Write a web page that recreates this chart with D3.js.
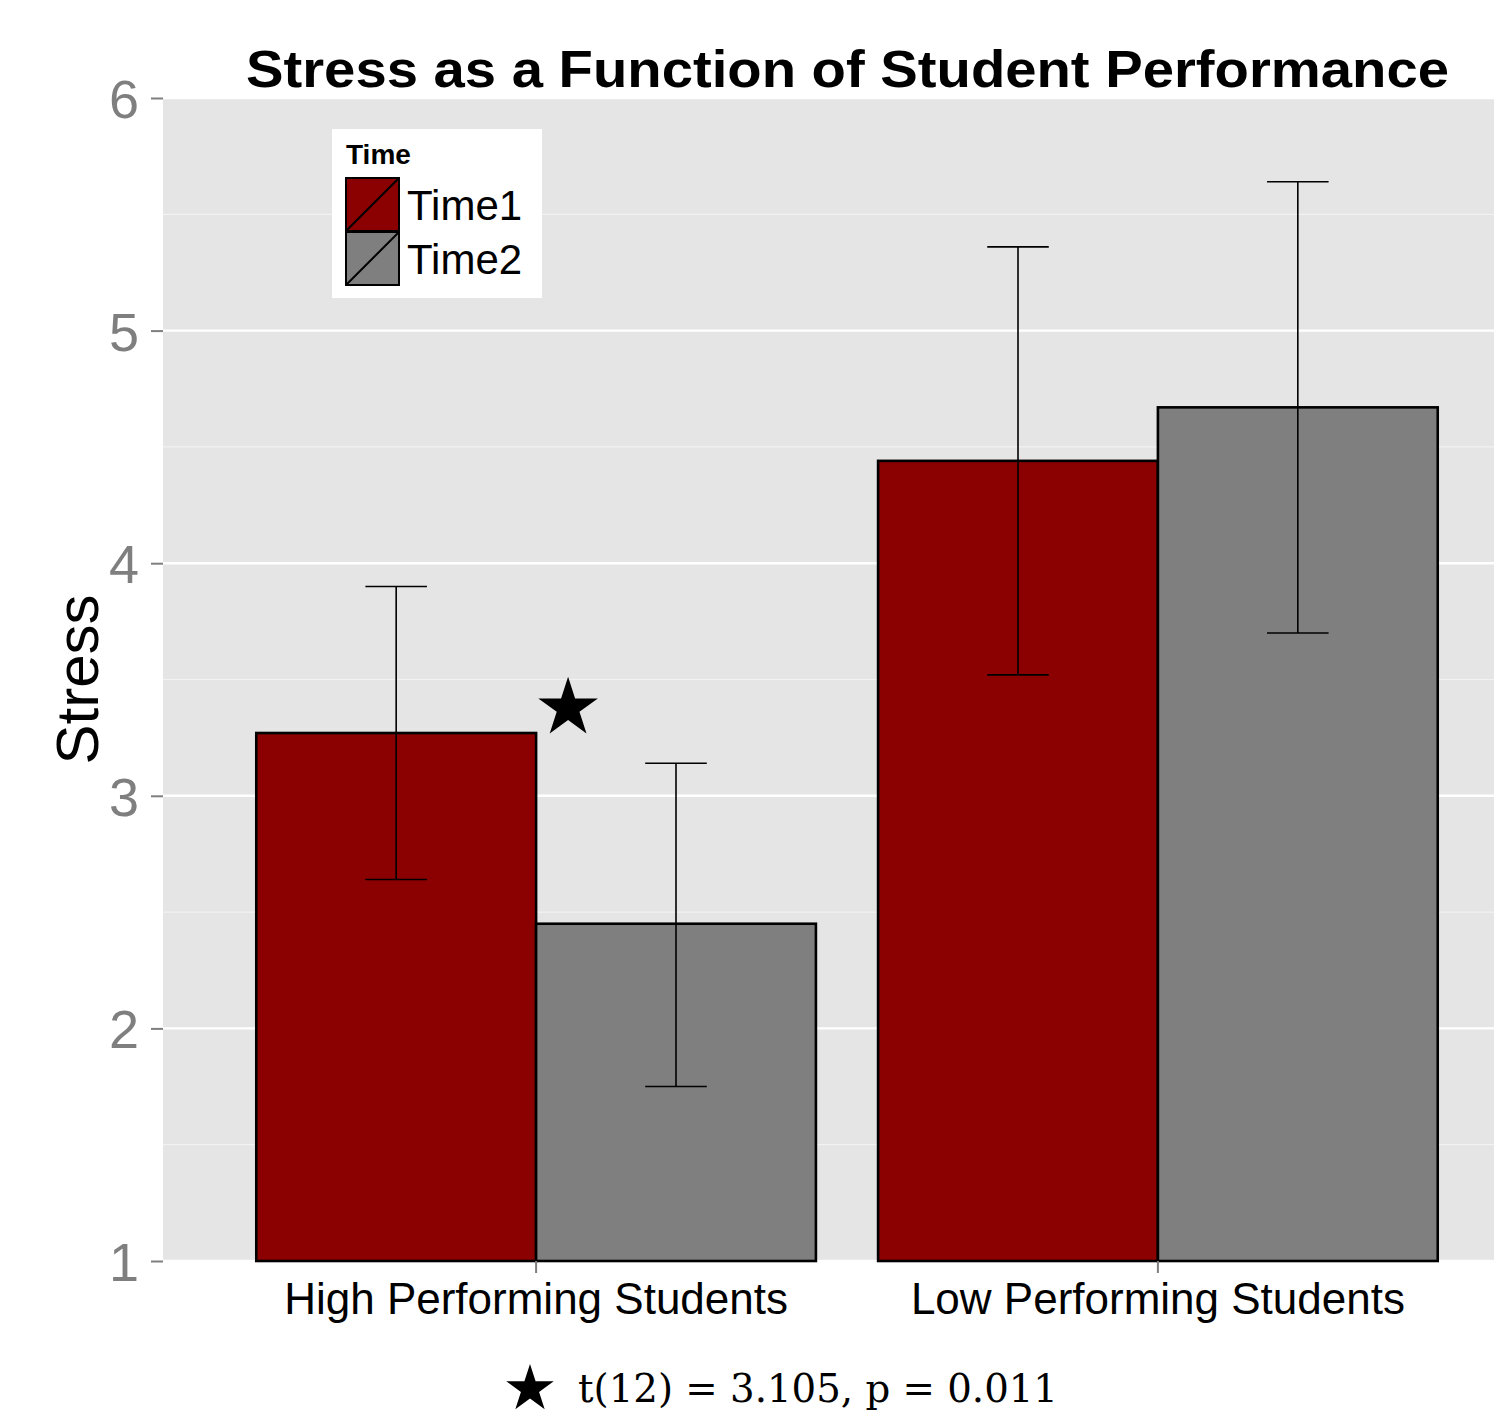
<!DOCTYPE html>
<html>
<head>
<meta charset="utf-8">
<script src="https://cdn.jsdelivr.net/npm/d3@7"></script>
<style>
  html, body { margin: 0; padding: 0; background: #fff; }
  svg { display: block; }
</style>
</head>
<body>
<div id="chart"></div>
<script>
const categories = ["High Performing Students", "Low Performing Students"];
const times = ["Time1", "Time2"];
const timeColors = ["#8b0000", "#7f7f7f"];
// mean stress per category, one array per time
const time1Means = [3.27, 4.44];
const time2Means = [2.45, 4.67];
const time1Lower = [2.64, 3.52];
const time1Upper = [3.90, 5.36];
const time2Lower = [1.75, 3.70];
const time2Upper = [3.14, 5.64];
const yTicks = [1, 2, 3, 4, 5, 6];
const yMinor = [1.5, 2.5, 3.5, 4.5, 5.5];
const starValue = 3.39;
const footnote = "t(12) = 3.105, p = 0.011";

const WIDTH = 1494;
const HEIGHT = 1411;
const PANEL = { left: 163, top: 98, bottom: 1261, right: 1531 };

const rows = [];
categories.forEach((c, i) => {
    rows.push({ cat: c, time: "Time1", mean: time1Means[i], lo: time1Lower[i], hi: time1Upper[i] });
    rows.push({ cat: c, time: "Time2", mean: time2Means[i], lo: time2Lower[i], hi: time2Upper[i] });
});

const svg = d3.select("#chart")
    .append("svg")
    .attr("width", WIDTH)
    .attr("height", HEIGHT);

const x = d3.scaleBand()
    .domain(categories)
    .range([PANEL.left, PANEL.right])
    .paddingInner(0.1)
    .paddingOuter(0.15);

const xt = d3.scaleBand()
    .domain(times)
    .range([0, x.bandwidth()]);

const color = d3.scaleOrdinal().domain(times).range(timeColors);

const y = d3.scaleLinear()
    .domain([1, 6])
    .range([PANEL.bottom, PANEL.top]);

// panel background
svg.append("rect")
    .attr("x", PANEL.left)
    .attr("y", PANEL.top)
    .attr("width", PANEL.right - PANEL.left)
    .attr("height", PANEL.bottom - PANEL.top)
    .attr("fill", "#e5e5e5");

svg.append("g")
    .selectAll("line")
    .data(yMinor)
    .enter()
    .append("line")
    .attr("x1", PANEL.left)
    .attr("x2", PANEL.right)
    .attr("y1", d => y(d))
    .attr("y2", d => y(d))
    .attr("stroke", "#f2f2f2")
    .attr("stroke-width", 1.2);

svg.append("g")
    .selectAll("line")
    .data(yTicks)
    .enter()
    .append("line")
    .attr("x1", PANEL.left)
    .attr("x2", PANEL.right)
    .attr("y1", d => y(d))
    .attr("y2", d => y(d))
    .attr("stroke", "#ffffff")
    .attr("stroke-width", 2.4);

// bars
const groups = svg.append("g")
    .selectAll("g")
    .data(rows)
    .enter()
    .append("g")
    .attr("transform", d => `translate(${x(d.cat) + xt(d.time)},0)`);

groups.append("rect")
    .attr("x", 0)
    .attr("y", d => y(d.mean))
    .attr("width", xt.bandwidth())
    .attr("height", d => y(1) - y(d.mean))
    .attr("fill", d => color(d.time))
    .attr("stroke", "#000")
    .attr("stroke-width", 2.6);

// error bars
const capHalf = xt.bandwidth() * 0.11;
const mid = xt.bandwidth() / 2;
groups.append("line")
    .attr("x1", mid).attr("x2", mid)
    .attr("y1", d => y(d.lo)).attr("y2", d => y(d.hi))
    .attr("stroke", "#000").attr("stroke-width", 1.6);
groups.append("line")
    .attr("x1", mid - capHalf).attr("x2", mid + capHalf)
    .attr("y1", d => y(d.hi)).attr("y2", d => y(d.hi))
    .attr("stroke", "#000").attr("stroke-width", 1.6);
groups.append("line")
    .attr("x1", mid - capHalf).attr("x2", mid + capHalf)
    .attr("y1", d => y(d.lo)).attr("y2", d => y(d.lo))
    .attr("stroke", "#000").attr("stroke-width", 1.6);

// significance star
const starPath = d3.symbol().type(d3.symbolStar).size(1100)();
svg.append("path")
    .attr("d", starPath)
    .attr("transform", `translate(${x(categories[0]) + xt("Time2") + 32},${y(starValue) + 3})`)
    .attr("fill", "#000");

// y axis
const yAxis = svg.append("g")
    .attr("transform", `translate(${PANEL.left},0)`)
    .call(d3.axisLeft(y).tickValues(yTicks).tickSize(12).tickPadding(12).tickFormat(d3.format("d")));
yAxis.select(".domain").remove();
yAxis.selectAll("line").attr("stroke", "#7f7f7f").attr("stroke-width", 2);
yAxis.selectAll("text")
    .attr("fill", "#7f7f7f")
    .attr("font-family", "Liberation Sans, Arial, sans-serif")
    .attr("font-size", 54)
    .attr("dy", "0.36em");

// x axis
const xAxis = svg.append("g")
    .attr("transform", `translate(0,${PANEL.bottom})`)
    .call(d3.axisBottom(x).tickSize(12).tickPadding(8));
xAxis.select(".domain").remove();
xAxis.selectAll("line").attr("stroke", "#7f7f7f").attr("stroke-width", 2);
xAxis.selectAll("text")
    .attr("fill", "#000")
    .attr("font-family", "Liberation Sans, Arial, sans-serif")
    .attr("font-size", 44)
    .attr("dy", "0.75em");

// axis title
svg.append("text")
    .attr("transform", `translate(98,${(PANEL.top + PANEL.bottom) / 2}) rotate(-90)`)
    .attr("text-anchor", "middle")
    .attr("font-family", "Liberation Sans, Arial, sans-serif")
    .attr("font-size", 60)
    .text("Stress");

// title
svg.append("text")
    .attr("x", 246)
    .attr("y", 87)
    .attr("font-family", "Liberation Sans, Arial, sans-serif")
    .attr("font-weight", "bold")
    .attr("font-size", 52)
    .attr("textLength", 1203)
    .attr("lengthAdjust", "spacingAndGlyphs")
    .text("Stress as a Function of Student Performance");

// legend
const legend = svg.append("g").attr("transform", "translate(332,129)");
legend.append("rect")
    .attr("width", 210).attr("height", 169).attr("fill", "#fff");
legend.append("text")
    .attr("x", 14).attr("y", 35)
    .attr("font-family", "Liberation Sans, Arial, sans-serif")
    .attr("font-weight", "bold")
    .attr("font-size", 28)
    .text("Time");
const keys = legend.selectAll("g.key")
    .data(times)
    .enter()
    .append("g")
    .attr("class", "key")
    .attr("transform", (d, i) => `translate(14,${49 + i * 54})`);
keys.append("rect")
    .attr("width", 53).attr("height", 53)
    .attr("fill", d => color(d))
    .attr("stroke", "#000").attr("stroke-width", 2);
keys.append("line")
    .attr("x1", 0).attr("y1", 53).attr("x2", 53).attr("y2", 0)
    .attr("stroke", "#000").attr("stroke-width", 2);
keys.append("text")
    .attr("x", 61).attr("y", 42)
    .attr("font-family", "Liberation Sans, Arial, sans-serif")
    .attr("font-size", 42)
    .text(d => d);

// footnote
svg.append("path")
    .attr("d", d3.symbol().type(d3.symbolStar).size(700)())
    .attr("transform", "translate(530,1389)")
    .attr("fill", "#000");
svg.append("text")
    .attr("x", 578)
    .attr("y", 1402)
    .attr("font-family", "DejaVu Serif, Liberation Serif, serif")
    .attr("font-size", 40)
    .attr("textLength", 480)
    .attr("lengthAdjust", "spacingAndGlyphs")
    .text(footnote);
</script>
</body>
</html>
